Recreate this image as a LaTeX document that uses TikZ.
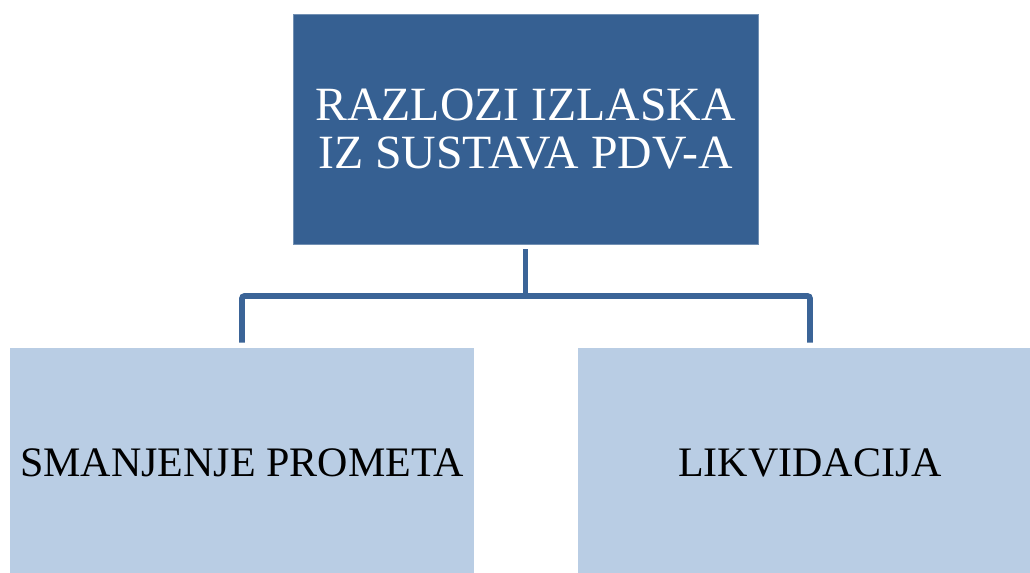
\documentclass[tikz,border=0pt]{standalone}
\usepackage{fontspec}
\setmainfont{Liberation Serif}
\usetikzlibrary{positioning}

\definecolor{darkbox}{HTML}{366092}
\definecolor{lightbox}{HTML}{B9CDE4}
\definecolor{linkblue}{HTML}{3B6497}

\tikzset{
    topbox/.style={fill=darkbox, draw=darkbox!70!white, line width=0.6pt,
        minimum width=348.75pt, minimum height=172.5pt, inner sep=0pt,
        align=center, text=white, font=\fontsize{35.8}{36}\selectfont},
    subbox/.style={fill=lightbox, minimum width=348pt, minimum height=172.5pt,
        inner sep=0pt, align=center, text=black, font=\fontsize{31.5}{34}\selectfont},
    link/.style={draw=linkblue, line width=4.4pt, rounded corners=2pt}
}

\begin{document}
\begin{tikzpicture}[x=0.75pt, y=-0.75pt]
    \useasboundingbox (0,0) rectangle (1030,572);
    \clip (0,0) rectangle (1030,572);
    \node[topbox] (top) at (525.5,129) {RAZLOZI IZLASKA\\IZ SUSTAVA PDV-A};
    \node[subbox] (left) at (242,463) {SMANJENJE PROMETA};
    \node[subbox] (right) at (810,463) {LIKVIDACIJA};
    \coordinate (bar) at (525.5,296);
    \draw[link, shorten <=3.75pt] (top.south) -- (bar);
    \draw[link, shorten <=3.75pt, shorten >=3.75pt] (left.north) |- (bar) -| (right.north);
\end{tikzpicture}
\end{document}
